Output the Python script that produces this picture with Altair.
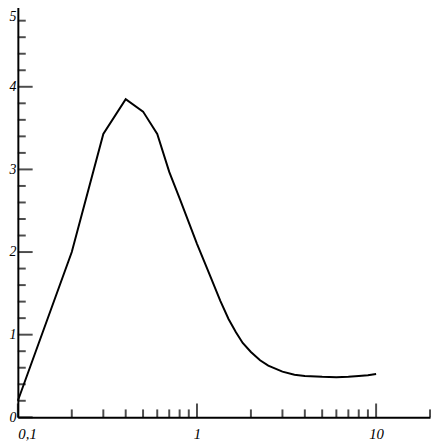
import altair as alt
import pandas as pd

# curve data
xs = [0.1, 0.2, 0.3, 0.4, 0.5, 0.6, 0.7, 0.8, 0.9, 1.0, 1.1, 1.2, 1.35, 1.5, 1.65, 1.8,
      2, 2.25, 2.5, 3, 3.5, 4, 5, 6, 7, 8, 9, 10]
ys = [0.2, 2.0, 3.43, 3.85, 3.70, 3.43, 2.97, 2.65, 2.36, 2.10, 1.88, 1.68, 1.41, 1.19,
      1.03, 0.90, 0.79, 0.69, 0.625, 0.553, 0.515, 0.50, 0.49, 0.486, 0.49, 0.50, 0.51, 0.525]

# axis tick values
x_labels = [0.1, 1, 10]
x_minor = [0.2, 0.3, 0.4, 0.5, 0.6, 0.7, 0.8, 0.9, 2, 3, 4, 5, 6, 7, 8, 9, 20]
y_labels = [0, 1, 2, 3, 4, 5]
y_minor = [0.2, 0.4, 0.6, 0.8, 1.2, 1.4, 1.6, 1.8, 2.2, 2.4, 2.6, 2.8,
           3.2, 3.4, 3.6, 3.8, 4.2, 4.4, 4.6, 4.8]

df = pd.DataFrame({"x": xs, "y": ys})
xscale = alt.Scale(type="log", domain=[0.1, 20], nice=False)
yscale = alt.Scale(domain=[0, 5], nice=False)

FONT = "Liberation Serif"

xaxis = alt.Axis(values=x_labels, ticks=False, grid=False, title=None,
                 domainColor="black", domainWidth=2, labelFont=FONT,
                 labelFontSize=15, labelFontStyle="italic", labelColor="black",
                 labelPadding=9, labelFlush=True,
                 labelExpr="replace(datum.label, '.', ',')")
yaxis = alt.Axis(values=y_labels, ticks=False, grid=False, title=None, format="d",
                 domainColor="black", domainWidth=2, labelFont=FONT,
                 labelFontSize=14, labelFontStyle="italic", labelColor="black",
                 labelPadding=2,
                 labelBaseline={"condition": {"test": "datum.value == 5", "value": "top"},
                                "value": "middle"},
                 labelOffset={"condition": {"test": "datum.value == 5", "value": 6},
                              "value": 0})

line = alt.Chart(df).mark_line(color="black", strokeWidth=2).encode(
    x=alt.X("x:Q", scale=xscale, axis=xaxis),
    y=alt.Y("y:Q", scale=yscale, axis=yaxis),
)

def xt(vals, size):
    return alt.Chart(pd.DataFrame({"x": vals})).mark_tick(
        orient="vertical", size=size, thickness=2, color="black", yOffset=-size / 2
    ).encode(x=alt.X("x:Q", scale=xscale), y=alt.datum(0))

def yt(vals, size):
    return alt.Chart(pd.DataFrame({"y": vals})).mark_tick(
        orient="horizontal", size=size, thickness=2, color="black", xOffset=size / 2
    ).encode(y=alt.Y("y:Q", scale=yscale), x=alt.datum(0.1))

chart = alt.layer(
    line, xt(x_labels, 14), xt(x_minor, 8), yt(y_labels, 15), yt(y_minor, 8)
).properties(
    width=418, height=419,
    autosize=alt.AutoSizeParams(type="none"),
    padding={"left": 10, "top": -7, "right": 2, "bottom": 26},
).configure_view(stroke=None)

chart.save("out.html", embed_options={"renderer": "svg", "actions": False})
